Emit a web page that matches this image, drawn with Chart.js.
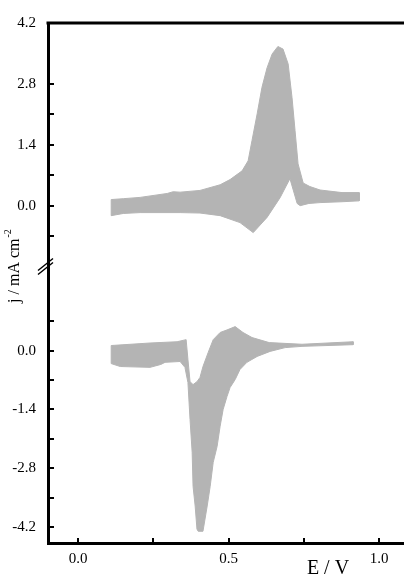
<!DOCTYPE html>
<html>
<head>
<meta charset="utf-8">
<script src="https://cdn.jsdelivr.net/npm/chart.js@4.4.0/dist/chart.umd.min.js"></script>
<style>
  html, body { margin: 0; padding: 0; background: #fff; }
</style>
</head>
<body>
<canvas id="cv" width="404" height="575"></canvas>
<script>
// upper panel: upper and lower edge of the gray band (E in V, j in mA cm-2)
var topUpE  = [0.110, 0.150, 0.206, 0.296, 0.316, 0.339, 0.405, 0.472, 0.505, 0.545, 0.565, 0.578, 0.595, 0.611, 0.628, 0.645, 0.664, 0.681, 0.698, 0.711, 0.721, 0.731, 0.748, 0.770, 0.804, 0.877, 0.934];
var topUpJ  = [0.14, 0.16, 0.19, 0.28, 0.32, 0.31, 0.35, 0.48, 0.60, 0.80, 1.03, 1.50, 2.11, 2.72, 3.17, 3.49, 3.66, 3.60, 3.26, 2.48, 1.72, 0.96, 0.52, 0.44, 0.36, 0.30, 0.30];
var topLowE = [0.110, 0.150, 0.206, 0.339, 0.405, 0.472, 0.538, 0.582, 0.628, 0.671, 0.704, 0.728, 0.738, 0.767, 0.804, 0.877, 0.934];
var topLowJ = [-0.23, -0.18, -0.16, -0.16, -0.17, -0.23, -0.39, -0.62, -0.27, 0.18, 0.62, 0.05, 0.00, 0.05, 0.07, 0.09, 0.11];

// lower panel
var botUpE  = [0.110, 0.239, 0.329, 0.359, 0.365, 0.372, 0.382, 0.395, 0.405, 0.415, 0.432, 0.449, 0.472, 0.498, 0.522, 0.548, 0.578, 0.635, 0.744, 0.914];
var botUpJ  = [0.12, 0.18, 0.21, 0.26, -0.21, -0.74, -0.81, -0.74, -0.64, -0.38, -0.05, 0.26, 0.43, 0.50, 0.57, 0.43, 0.31, 0.19, 0.15, 0.21];
var botLowE = [0.110, 0.140, 0.239, 0.275, 0.289, 0.339, 0.355, 0.365, 0.372, 0.379, 0.382, 0.389, 0.395, 0.399, 0.415, 0.429, 0.439, 0.449, 0.462, 0.472, 0.482, 0.495, 0.505, 0.522, 0.538, 0.561, 0.595, 0.638, 0.688, 0.744, 0.914];
var botLowJ = [-0.31, -0.38, -0.40, -0.33, -0.28, -0.26, -0.40, -0.76, -1.64, -2.42, -3.23, -3.70, -4.25, -4.30, -4.30, -3.70, -3.23, -2.66, -2.28, -1.80, -1.40, -1.09, -0.88, -0.69, -0.45, -0.28, -0.14, -0.02, 0.07, 0.10, 0.14];

var xMajor = [0, 0.5, 1.0];
var xMinor = [0.25, 0.75];
var topMajor = [0, 1.4, 2.8, 4.2];
var topMinor = [-0.7, 0.7, 2.1];
var botMajor = [-4.2, -2.8, -1.4, 0];
var botMinor = [-3.5, -2.1, -0.7, 0.7];

var gray = 'rgb(180,180,180)';
var serif = '"Liberation Serif", "Times New Roman", serif';

function band(upE, upJ, lowE, lowJ) {
    var pts = [];
    for (var i = 0; i < upE.length; i++) pts.push({x: upE[i], y: upJ[i]});
    for (var k = lowE.length - 1; k >= 0; k--) pts.push({x: lowE[k], y: lowJ[k]});
    pts.push({x: upE[0], y: upJ[0]});
    return pts;
}

function tickList(major, minor) {
    return major.concat(minor).map(function(v) { return {value: v}; });
}

function label(major) {
    return function(v) {
        for (var i = 0; i < major.length; i++)
            if (Math.abs(major[i] - v) < 1e-6) return v.toFixed(1);
        return '';
    };
}

function yAxis(weight, min, max, major, minor) {
    return {
        type: 'linear',
        position: 'left',
        stack: 'j',
        stackWeight: weight,
        min: min,
        max: max,
        afterBuildTicks: function(s) { s.ticks = tickList(major, minor); },
        afterFit: function(s) { s.width = 48; },
        ticks: {callback: label(major), color: '#000', padding: 12, autoSkip: false, font: {family: serif, size: 15}},
        grid: {display: false, drawTicks: false},
        border: {color: '#000', width: 3}
    };
}

// inward tick marks, top frame line, axis break and the two axis titles
var decor = {
    id: 'decor',
    afterDraw: function(chart) {
        var ctx = chart.ctx, a = chart.chartArea, sc = chart.scales;
        ctx.save();
        ctx.strokeStyle = '#000';
        ctx.lineWidth = 2;
        ctx.beginPath();
        xMajor.concat(xMinor).forEach(function(v) {
            var px = Math.round(sc.x.getPixelForValue(v));
            ctx.moveTo(px, a.bottom);
            ctx.lineTo(px, a.bottom - 5);
        });
        [['yTop', topMajor.concat(topMinor)], ['yBot', botMajor.concat(botMinor)]].forEach(function(p) {
            p[1].forEach(function(v) {
                var py = Math.round(sc[p[0]].getPixelForValue(v));
                ctx.moveTo(a.left, py);
                ctx.lineTo(a.left + 6, py);
            });
        });
        ctx.stroke();

        ctx.lineWidth = 3;
        ctx.beginPath();
        ctx.moveTo(a.left - 1.5, a.top);
        ctx.lineTo(a.right, a.top);
        ctx.stroke();

        // break marks
        var by = sc.yTop.bottom;
        ctx.lineWidth = 1.5;
        ctx.beginPath();
        ctx.moveTo(a.left - 10, by + 4);
        ctx.lineTo(a.left + 5, by - 8);
        ctx.moveTo(a.left - 10, by + 8);
        ctx.lineTo(a.left + 5, by - 4);
        ctx.stroke();

        ctx.fillStyle = '#000';
        ctx.font = '20px ' + serif;
        ctx.textBaseline = 'alphabetic';
        ctx.textAlign = 'center';
        ctx.fillText('E / V', 328, 574);

        // rotated y title with superscript
        ctx.translate(19, by);
        ctx.rotate(-Math.PI / 2);
        ctx.textAlign = 'left';
        ctx.font = '16px ' + serif;
        var main = 'j / mA cm';
        var w1 = ctx.measureText(main).width;
        ctx.font = '10px ' + serif;
        var w2 = ctx.measureText('-2').width;
        var x0 = -(w1 + w2) / 2;
        ctx.font = '16px ' + serif;
        ctx.fillText(main, x0, 0);
        ctx.font = '10px ' + serif;
        ctx.fillText('-2', x0 + w1 + 1, -8);
        ctx.restore();
    }
};

new Chart(document.getElementById('cv').getContext('2d'), {
    type: 'line',
    data: {
        datasets: [{
            data: band(topUpE, topUpJ, topLowE, topLowJ),
            yAxisID: 'yTop',
            fill: 'shape',
            backgroundColor: gray,
            borderColor: gray,
            borderWidth: 1,
            pointRadius: 0,
            tension: 0
        }, {
            data: band(botUpE, botUpJ, botLowE, botLowJ),
            yAxisID: 'yBot',
            fill: 'shape',
            backgroundColor: gray,
            borderColor: gray,
            borderWidth: 1,
            pointRadius: 0,
            tension: 0
        }]
    },
    options: {
        responsive: false,
        animation: false,
        layout: {padding: {top: 23, right: 0, left: 0, bottom: 0}},
        plugins: {legend: {display: false}, tooltip: {enabled: false}},
        scales: {
            x: {
                type: 'linear',
                min: -0.1,
                max: 1.083,
                afterBuildTicks: function(s) { s.ticks = tickList(xMajor, xMinor); },
                afterFit: function(s) { s.height = 32; },
                ticks: {callback: label(xMajor), color: '#000', padding: 7, maxRotation: 0, autoSkip: false, font: {family: serif, size: 15}},
                grid: {display: false, drawTicks: false},
                border: {color: '#000', width: 3}
            },
            yBot: yAxis(277, -4.58, 2.0, botMajor, botMinor),
            yTop: yAxis(244, -1.4, 4.2, topMajor, topMinor)
        }
    },
    plugins: [decor]
});
</script>
</body>
</html>
